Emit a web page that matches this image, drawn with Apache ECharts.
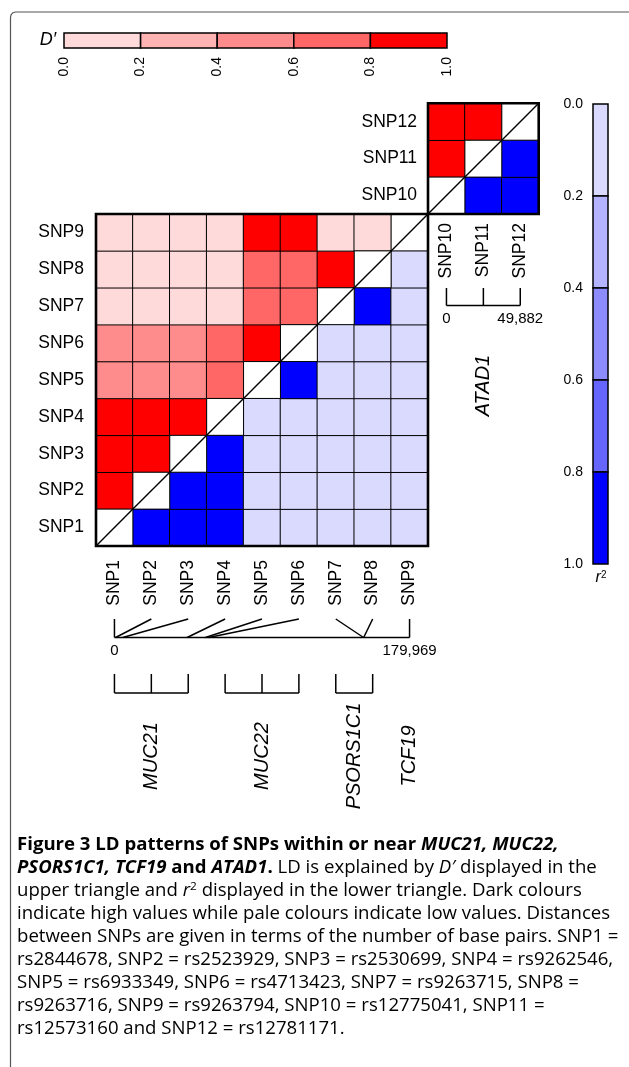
<!DOCTYPE html>
<html><head><meta charset="utf-8">
<script src="https://cdn.jsdelivr.net/npm/echarts@6/dist/echarts.min.js"></script>
<style>html,body{margin:0;padding:0;background:#fff}#c{width:629px;height:1067px}</style>
</head><body><div id="c"></div>
<script>
// ---------- data ----------
const snpsMain = ['SNP1','SNP2','SNP3','SNP4','SNP5','SNP6','SNP7','SNP8','SNP9'];
const snpsAtad = ['SNP10','SNP11','SNP12'];
// rows = SNP on the y axis, columns = SNP on the x axis
// column < row : D'   (upper-left triangle, reds)
// column > row : r^2  (lower-right triangle, blues)
const ldMain = [
  [null, 0.85, 0.82, 0.88, 0.05, 0.04, 0.03, 0.03, 0.02],  // SNP1
  [0.95, null, 0.90, 0.86, 0.06, 0.05, 0.03, 0.03, 0.02],  // SNP2
  [0.91, 0.97, null, 0.93, 0.05, 0.05, 0.03, 0.03, 0.02],  // SNP3
  [0.92, 0.94, 0.96, null, 0.06, 0.06, 0.03, 0.03, 0.02],  // SNP4
  [0.53, 0.51, 0.52, 0.67, null, 0.91, 0.08, 0.08, 0.04],  // SNP5
  [0.52, 0.50, 0.51, 0.66, 0.98, null, 0.07, 0.07, 0.04],  // SNP6
  [0.13, 0.11, 0.12, 0.10, 0.71, 0.69, null, 0.98, 0.05],  // SNP7
  [0.13, 0.11, 0.12, 0.10, 0.72, 0.70, 1.00, null, 0.05],  // SNP8
  [0.12, 0.10, 0.11, 0.09, 0.95, 0.93, 0.15, 0.14, null]   // SNP9
];
const ldAtad = [
  [null, 0.85, 0.88],  // SNP10
  [0.97, null, 0.90],  // SNP11
  [0.95, 0.96, null]   // SNP12
];
const legendTicks = [0, 0.2, 0.4, 0.6, 0.8, 1.0];
const dPrimeColors = ['#FFDADA', '#FFB3B3', '#FF8C8C', '#FF6666', '#FF0000'];
const r2Colors = ['#DADAFF', '#B3B3FF', '#8C8CFF', '#6666FF', '#0000FF'];
// genomic positions (bp from the first SNP of each block)
const posMain = [0, 700, 5060, 44300, 55460, 57470, 151900, 152000, 179969];
const posAtad = [0, 24950, 49882];
// genes (first / last SNP index)
const genesMain = ['MUC21', 'MUC22', 'PSORS1C1', 'TCF19'];
const geneFirst = [0, 3, 6, 8];
const geneLast = [2, 5, 7, 8];
const genesAtad = ['ATAD1'];
const geneAtadFirst = [0];
const geneAtadLast = [2];
const captionLines = [
  [['b','Figure 3 LD patterns of SNPs within or near '],['bi','MUC21'],['bi',', '],['bi','MUC22'],['bi',',']],
  [['bi','PSORS1C1'],['bi',', '],['bi','TCF19'],['b',' and '],['bi','ATAD1'],['b','.'],['n',' LD is explained by '],['i','D′'],['n',' displayed in the']],
  [['n','upper triangle and '],['i','r'],['sup','2'],['n',' displayed in the lower triangle. Dark colours']],
  [['n','indicate high values while pale colours indicate low values. Distances']],
  [['n','between SNPs are given in terms of the number of base pairs. SNP1 =']],
  [['n','rs2844678, SNP2 = rs2523929, SNP3 = rs2530699, SNP4 = rs9262546,']],
  [['n','SNP5 = rs6933349, SNP6 = rs4713423, SNP7 = rs9263715, SNP8 =']],
  [['n','rs9263716, SNP9 = rs9263794, SNP10 = rs12775041, SNP11 =']],
  [['n','rs12573160 and SNP12 = rs12781171.']]
];

// ---------- helpers ----------
const FONT = '"Liberation Sans", Arial, Helvetica, sans-serif';
const CAP_FONT = '"Open Sans", "Noto Sans", sans-serif';
const LBL = 17.5;

function splitCells(m) {
  const d = [], r = [];
  m.forEach((row, ri) => row.forEach((v, ci) => {
    if (v == null) return;
    if (ci < ri) d.push([ci, ri, v]); else r.push([ci, ri, v]);
  }));
  return { d, r };
}
const cMain = splitCells(ldMain);
const cAtad = splitCells(ldAtad);

function pieces(colors) {
  return legendTicks.slice(0, -1).map((lo, k) => {
    const p = { gte: lo, color: colors[k] };
    if (k < colors.length - 1) p.lt = legendTicks[k + 1]; else p.lte = legendTicks[k + 1];
    return p;
  });
}
function seg(a, b, w) {
  return { type: 'line', shape: { x1: a[0], y1: a[1], x2: b[0], y2: b[1] }, style: { stroke: '#000', lineWidth: w || 1.5 } };
}
function diagRender(params, api) {
  const i = api.value(0);
  const c = api.coord([i, i]);
  const s = api.size([1, 1]);
  const x0 = c[0] - s[0] / 2, y0 = c[1] - s[1] / 2;
  return { type: 'group', children: [
    { type: 'rect', shape: { x: x0, y: y0, width: s[0], height: s[1] }, style: { fill: '#fff', stroke: '#000', lineWidth: 1 } },
    seg([x0, y0 + s[1]], [x0 + s[0], y0], 1.4)
  ]};
}
function frameRender(params, api) {
  const a = api.value(0), b = api.value(1);
  const s = api.size([1, 1]);
  const p = api.coord([a, a]), q = api.coord([b, b]);
  return { type: 'rect', shape: { x: p[0] - s[0] / 2, y: q[1] - s[1] / 2, width: q[0] - p[0] + s[0], height: p[1] - q[1] + s[1] },
    style: { fill: 'none', stroke: '#000', lineWidth: 2.6 } };
}
function hLegendRender(params, api) {
  const lo = api.value(0), hi = api.value(1), k = api.value(2);
  const p0 = api.coord([lo, 0]), p1 = api.coord([hi, 1]);
  return { type: 'rect', shape: { x: p0[0], y: p1[1], width: p1[0] - p0[0], height: p0[1] - p1[1] },
    style: { fill: dPrimeColors[k], stroke: '#000', lineWidth: 1.5 } };
}
function vLegendRender(params, api) {
  const lo = api.value(0), hi = api.value(1), k = api.value(2);
  const p0 = api.coord([0, lo]), p1 = api.coord([1, hi]);
  return { type: 'rect', shape: { x: p0[0], y: p0[1], width: p1[0] - p0[0], height: p1[1] - p0[1] },
    style: { fill: r2Colors[k], stroke: '#000', lineWidth: 1.5 } };
}
function posRender(positions) {
  const span = positions[positions.length - 1];
  const step = span / (positions.length - 1);
  return function (params, api) {
    const i = params.dataIndex;
    const top = api.coord([i * step, 1]);
    const bot = api.coord([api.value(0), 0]);
    const ch = [seg(top, bot)];
    if (i === 0) ch.push(seg(api.coord([0, 0]), api.coord([span, 0])));
    return { type: 'group', children: ch };
  };
}
function geneText(x, y, name) {
  return { type: 'text', x: x, y: y, rotation: Math.PI / 2,
    style: { text: name, fontFamily: FONT, fontSize: 20, fontStyle: 'italic', fill: '#000', align: 'center', verticalAlign: 'middle' } };
}
function geneRender(params, api) {
  const a = api.value(0), b = api.value(1);
  const ch = [];
  const pa = api.coord([a, 0]), pb = api.coord([b, 0]);
  if (b > a) {
    for (let k = a; k <= b; k++) ch.push(seg(api.coord([k, 1]), api.coord([k, 0])));
    ch.push(seg(pa, pb));
  }
  ch.push(geneText((pa[0] + pb[0]) / 2, pa[1] + 63, genesMain[params.dataIndex]));
  return { type: 'group', children: ch };
}
function geneAtadRender(params, api) {
  const span = posAtad[posAtad.length - 1];
  const step = span / (posAtad.length - 1);
  const a = api.value(0), b = api.value(1);
  const p = api.coord([(a + b) / 2 * step, 0]);
  return geneText(p[0], p[1] + 80, genesAtad[params.dataIndex]);
}
const fmtNum = v => String(v).replace(/\B(?=(\d{3})+(?!\d))/g, ',');
function posAxis(grid, positions) {
  const span = positions[positions.length - 1];
  const step = span / (positions.length - 1);
  return { type: 'value', gridIndex: grid, min: -step / 2, max: span + step / 2,
    axisLine: { show: false }, axisTick: { show: false }, splitLine: { show: false },
    axisLabel: { customValues: [0, span], formatter: fmtNum, margin: 6, fontSize: 15, fontFamily: FONT, color: '#000' } };
}
const hiddenVal = g => ({ type: 'value', gridIndex: g, min: 0, max: 1, show: false });

// ---------- caption ----------
const CAP = 18;
const capRich = {
  n: { fontFamily: CAP_FONT, fontSize: CAP, color: '#231f20' },
  b: { fontFamily: CAP_FONT, fontSize: CAP, fontWeight: 'bold', color: '#231f20' },
  i: { fontFamily: CAP_FONT, fontSize: CAP, fontStyle: 'italic', color: '#231f20' },
  bi: { fontFamily: CAP_FONT, fontSize: CAP, fontWeight: 'bold', fontStyle: 'italic', color: '#231f20' },
  sup: { fontFamily: CAP_FONT, fontSize: 11.5, color: '#231f20', verticalAlign: 'top', lineHeight: 21 }
};
const captionGraphics = captionLines.map((frags, k) => ({
  type: 'text', x: 17, y: 845 + k * 23, scaleX: 1.033,
  style: { text: frags.map(f => '{' + f[0] + '|' + f[1] + '}').join(''), rich: capRich, verticalAlign: 'middle', align: 'left' }
}));

// ---------- chart ----------
const chart = echarts.init(document.getElementById('c'), null, { renderer: 'canvas' });
const catX = (g, data, margin) => ({ type: 'category', gridIndex: g, data: data,
  axisLine: { show: false }, axisTick: { show: false }, splitLine: { show: false },
  axisLabel: { rotate: 90, margin: margin, fontSize: LBL, fontFamily: FONT, color: '#000' } });
const catY = (g, data, margin) => ({ type: 'category', gridIndex: g, data: data,
  axisLine: { show: false }, axisTick: { show: false }, splitLine: { show: false },
  axisLabel: { margin: margin, fontSize: LBL, fontFamily: FONT, color: '#000' } });

chart.setOption({
  animation: false,
  backgroundColor: '#fff',
  grid: [
    { left: 96, top: 214, width: 332, height: 332 },
    { left: 428, top: 103.3, width: 110.7, height: 110.7 },
    { left: 64, top: 33, width: 383, height: 15 },
    { left: 593, top: 104, width: 15, height: 460 },
    { left: 96, top: 619, width: 332, height: 18.5 },
    { left: 428, top: 288, width: 110.7, height: 17.5 },
    { left: 96, top: 674, width: 332, height: 19 }
  ],
  xAxis: [
    catX(0, snpsMain, 14),
    catX(1, snpsAtad, 9),
    { type: 'value', gridIndex: 2, min: 0, max: 1,
      axisLine: { show: false }, axisTick: { show: false }, splitLine: { show: false },
      axisLabel: { customValues: legendTicks, rotate: 90, margin: 9, fontSize: 14, fontFamily: FONT, color: '#000', formatter: v => v.toFixed(1) } },
    hiddenVal(3),
    posAxis(4, posMain),
    posAxis(5, posAtad),
    { type: 'category', gridIndex: 6, data: snpsMain, show: false }
  ],
  yAxis: [
    catY(0, snpsMain, 12),
    catY(1, snpsAtad, 11),
    hiddenVal(2),
    { type: 'value', gridIndex: 3, min: 0, max: 1, inverse: true,
      axisLine: { show: false }, axisTick: { show: false }, splitLine: { show: false },
      axisLabel: { customValues: legendTicks, margin: 10, fontSize: 14, fontFamily: FONT, color: '#000', formatter: v => v.toFixed(1) } },
    hiddenVal(4), hiddenVal(5), hiddenVal(6)
  ],
  visualMap: [
    { type: 'piecewise', show: false, seriesIndex: [0, 2], dimension: 2, pieces: pieces(dPrimeColors) },
    { type: 'piecewise', show: false, seriesIndex: [1, 3], dimension: 2, pieces: pieces(r2Colors) }
  ],
  series: [
    { type: 'heatmap', xAxisIndex: 0, yAxisIndex: 0, data: cMain.d, silent: true, itemStyle: { borderColor: '#000', borderWidth: 1 } },
    { type: 'heatmap', xAxisIndex: 0, yAxisIndex: 0, data: cMain.r, silent: true, itemStyle: { borderColor: '#000', borderWidth: 1 } },
    { type: 'heatmap', xAxisIndex: 1, yAxisIndex: 1, data: cAtad.d, silent: true, itemStyle: { borderColor: '#000', borderWidth: 1 } },
    { type: 'heatmap', xAxisIndex: 1, yAxisIndex: 1, data: cAtad.r, silent: true, itemStyle: { borderColor: '#000', borderWidth: 1 } },
    { type: 'custom', xAxisIndex: 0, yAxisIndex: 0, z: 4, silent: true, renderItem: diagRender, data: snpsMain.map((s, i) => [i, i]) },
    { type: 'custom', xAxisIndex: 1, yAxisIndex: 1, z: 4, silent: true, renderItem: diagRender, data: snpsAtad.map((s, i) => [i, i]) },
    { type: 'custom', xAxisIndex: 0, yAxisIndex: 0, z: 6, silent: true, renderItem: frameRender, data: [[0, snpsMain.length - 1]] },
    { type: 'custom', xAxisIndex: 1, yAxisIndex: 1, z: 6, silent: true, renderItem: frameRender, data: [[0, snpsAtad.length - 1]] },
    { type: 'custom', xAxisIndex: 2, yAxisIndex: 2, silent: true, renderItem: hLegendRender,
      data: legendTicks.slice(0, -1).map((lo, k) => [lo, legendTicks[k + 1], k]) },
    { type: 'custom', xAxisIndex: 3, yAxisIndex: 3, silent: true, renderItem: vLegendRender,
      data: legendTicks.slice(0, -1).map((lo, k) => [lo, legendTicks[k + 1], k]) },
    { type: 'custom', xAxisIndex: 4, yAxisIndex: 4, silent: true, renderItem: posRender(posMain), data: posMain.map(p => [p, 0]) },
    { type: 'custom', xAxisIndex: 5, yAxisIndex: 5, silent: true, renderItem: posRender(posAtad), data: posAtad.map(p => [p, 0]) },
    { type: 'custom', xAxisIndex: 6, yAxisIndex: 6, silent: true, renderItem: geneRender, data: geneFirst.map((f, k) => [f, geneLast[k]]) },
    { type: 'custom', xAxisIndex: 5, yAxisIndex: 5, silent: true, renderItem: geneAtadRender, data: geneAtadFirst.map((f, k) => [f, geneAtadLast[k]]) }
  ],
  graphic: [
    { type: 'polyline', shape: { points: [[10.5, 1067], [10.5, 17], [11.2, 14.5], [13, 12.7], [15.5, 12], [629, 12]] }, style: { fill: 'none', stroke: '#555', lineWidth: 1.2 } },
    { type: 'text', x: 56, y: 40, style: { text: 'D′', fontFamily: FONT, fontSize: 18, fontStyle: 'italic', fill: '#000', align: 'right', verticalAlign: 'middle' } },
    { type: 'text', x: 601, y: 578, style: { text: '{r|r}{s|2}', align: 'center', verticalAlign: 'middle',
      rich: { r: { fontFamily: FONT, fontSize: 16, fontStyle: 'italic', color: '#000' }, s: { fontFamily: FONT, fontSize: 10, color: '#000', verticalAlign: 'top' } } } }
  ].concat(captionGraphics)
});
</script>
</body></html>
